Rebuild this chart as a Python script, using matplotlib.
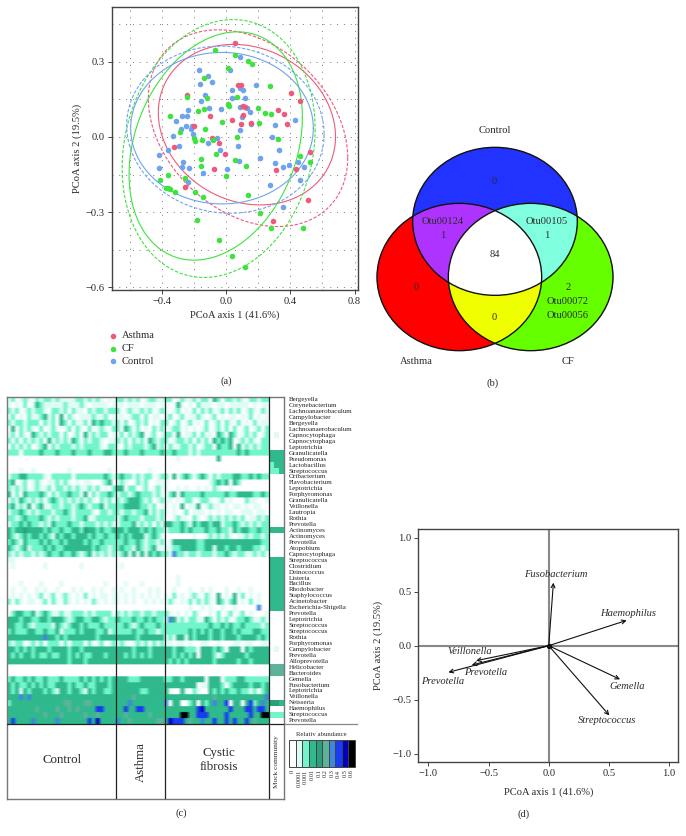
import numpy as np
import matplotlib
matplotlib.use("Agg")
import matplotlib.pyplot as plt
from matplotlib.colors import ListedColormap, BoundaryNorm, to_rgba
from matplotlib.patches import Ellipse, Rectangle

plt.rcParams['font.family'] = ['Liberation Serif', 'DejaVu Serif']
W, H = 686, 836
TXT = '#2a2a2a'

# ---------- panel (a) data ----------
asthma_x = [0.058,-0.24,0.075,0.095,0.406,0.46,0.325,0.36,0.38,0.104,0.118,0.108,-0.10,0.04,0.093,0.155,-0.197,-0.089,-0.044,-0.323,-0.004,-0.077,0.313,0.435,0.522,0.508,-0.253,0.294]
asthma_y = [0.375,0.169,0.207,0.207,0.177,0.145,0.108,0.092,0.052,0.125,0.121,0.088,0.082,0.068,0.052,0.054,0.044,-0.004,-0.024,-0.04,-0.068,-0.129,-0.13,-0.127,-0.06,-0.251,-0.2,-0.335]
cf_x = [-0.068,0.056,0.135,0.164,0.012,-0.137,0.272,-0.242,-0.116,0.066,0.01,0.019,0.197,0.242,0.278,-0.137,-0.176,-0.35,-0.286,-0.128,-0.025,0.203,0.068,0.321,-0.195,-0.2,-0.147,-0.079,-0.06,-0.158,-0.153,0.058,0.122,0.46,0.522,-0.36,0,-0.412,-0.255,-0.375,-0.363,-0.348,-0.317,-0.195,-0.141,0.135,0.211,-0.182,0.28,0.477,-0.044,0.035,0.12]
cf_y = [0.347,0.327,0.304,0.292,0.275,0.235,0.203,0.159,0.157,0.158,0.13,0.124,0.116,0.094,0.092,0.11,0.102,0.082,0.02,0.033,0.06,0.056,0,-0.007,-0.015,-0.004,-0.011,-0.012,-0.068,-0.088,-0.116,-0.092,-0.117,-0.074,-0.098,-0.15,-0.154,-0.171,-0.165,-0.205,-0.202,-0.206,-0.22,-0.22,-0.239,-0.231,-0.303,-0.331,-0.361,-0.363,-0.409,-0.473,-0.519]
control_x = [0.089,0.025,-0.166,-0.114,-0.16,-0.089,0.187,0.037,0.087,0.108,0.04,0.12,-0.131,-0.158,-0.234,-0.104,-0.029,0.087,0.13,0.151,0.097,0.429,-0.242,-0.276,-0.311,-0.249,-0.213,-0.22,-0.28,-0.205,-0.327,-0.29,-0.359,-0.415,-0.054,-0.11,-0.035,0.073,0.087,0.155,0.307,0.286,0.327,0.211,0.079,0.307,0.354,0.394,0.446,0.485,0.458,0.276,0.352,-0.419,-0.265,-0.276,-0.232,-0.143,0.008,-0.236]
control_y = [0.317,0.268,0.267,0.244,0.211,0.22,0.207,0.187,0.194,0.186,0.157,0.157,0.166,0.143,0.109,0.114,0.113,0.12,0.114,0.101,0.078,0.068,0.084,0.082,0.062,0.044,0.044,0.033,0.03,0.011,0.004,-0.036,-0.052,-0.07,-0.004,-0.023,-0.05,-0.036,0.028,0.052,0.046,0,-0.052,-0.082,-0.097,-0.104,-0.12,-0.112,-0.098,-0.12,-0.173,-0.19,-0.279,-0.124,-0.1,-0.118,-0.125,-0.145,-0.129,-0.179]
# ellipses: centre x, centre y, half range x, half range y, correlation
asthma_solid = (0.13, 0.049, 0.551, 0.32, -0.15)
asthma_dash = (0.137, 0.035, 0.62, 0.392, -0.3)
cf_solid = (-0.064, -0.036, 0.539, 0.455, 0.25)
cf_dash = (-0.046, -0.046, 0.6, 0.514, 0.15)
control_solid = (-0.025, 0.035, 0.568, 0.302, 0.0)
control_dash = (-0.004, 0.029, 0.614, 0.333, -0.05)
group_names = ['Asthma', 'CF', 'Control']
group_colors = ['#ee5a7c', '#3fe23f', '#6fa3ee']

# ---------- panel (b) data ----------
venn_centers = [(390, 334), (283, 501), (497, 501)]
venn_radii = [(247, 222), (247, 221), (247, 221)]
venn_labels = [('Control',389,61),('0',389,213),('Otu00124',232,335),('1',232,377),('Otu00105',545,335),('1',545,377),
               ('84',389,434),('0',155,534),('2',609,534),('Otu00072',609,575),('Otu00056',609,617),('0',389,621),
               ('Asthma',155,754),('CF',609,754)]

# ---------- panel (c) data ----------
taxa = ['Bergeyella','Corynebacterium','Lachnoanaerobaculum','Campylobacter','Bergeyella','Lachnoanaerobaculum','Capnocytophaga','Capnocytophaga','Leptotrichia','Granulicatella','Pseudomonas','Lactobacillus','Streptococcus','Oribacterium','Flavobacterium','Leptotrichia','Porphyromonas','Granulicatella','Veillonella','Lautropia','Rothia','Prevotella','Actinomyces','Actinomyces','Prevotella','Atopobium','Capnocytophaga','Streptococcus','Clostridium','Deinococcus','Listeria','Bacillus','Rhodobacter','Staphylococcus','Acinetobacter','Escherichia-Shigella','Prevotella','Leptotrichia','Streptococcus','Streptococcus','Rothia','Porphyromonas','Campylobacter','Prevotella','Alloprevotella','Helicobacter','Bacteroides','Gemella','Fusobacterium','Leptotrichia','Veillonella','Neisseria','Haemophilus','Streptococcus','Prevotella']
heat_rows = [
"120121021221211112212121010 221212012211 22012112022032022121022122",
"101020132111112111210111101 110111011101 10031010211101101111101011",
"212012122102212021102122122 201211212012 10120102021201202120121021",
"120102112312030210111211201 110122020110 12012011210120101101020101",
"212212220212032021120323221 202012120102 20120120102012021020102011",
"030212102012101202102012102 203202010212 01220101012012020201201202",
"120210321212202012031212201 120212301201 22030112021103203201212012",
"212021212031212132021221011 212021203212 20122120212032323012121022",
"021212012302122212122221022 102122212312 02112212012203223031212122",
"222022223222322232223222332 223222322223 22322212122222222232322222",
"000000000000000000000000000 000000000000 00010000000003000000000000",
"000000000000000000000000000 000000000000 00000000000000000000000000",
"000100100000000100000000010 000000001000 00000000000000000000000000",
"122332222102222202222222321 232212122012 20302320232021222332232322",
"230120121011212101011001230 121002120011 10000000000123230320000000",
"212120121120221212112120102 330220120121 10010100101021001000000000",
"302032223202122322130212232 122123222121 02303222232222232233332232",
"121321212023212121212102120 212333212012 11010220122101201000211001",
"231213023112212212321223122 223333221201 10103011301211010110101100",
"122321212221223212222102212 212212231212 10100201110101011001110110",
"221232223212122212231122222 123222122212 00121102101212121212011212",
"122323221213222322122212121 122231212021 33223213233233122321212122",
"323343333232232233243323223 332333232322 12223232223223221323322322",
"321232332321323323332322322 323233312321 00000001001212121011212212",
"232132223232232333323223222 223223212212 01333333223333333333333322",
"321231222323223333333232212 232213212311 11223333223313323323332212",
"212122121232232232123121212 123131313232 21622122122212232122112121",
"110000000000000000000000000 000000000000 00000000000000000000000000",
"010000000100000000100000000 010000000000 00000000000000000000000000",
"000000000000000000000000000 000000000000 00000000000000000000000000",
"000000000000000000000000000 000000000000 00010000000000000000000000",
"000100001000010000000000100 001000100000 00010000000000000000000000",
"010010010100100010100101001 010010001010 00100010010100010010010000",
"010101012012012101020101101 101010101010 10201012102103010302010100",
"202101101202102101010210101 101010010101 02101020212103202301020100",
"000000000000000000000000000 000000000000 00000010010100100100000600",
"023322312321121122212122220 212122122122 21010102100102012012010001",
"333233223323332123322332122 322232232322 16312022113202120122321121",
"332232122221321233232223222 223212322232 22222222222322323223222212",
"232223322322312223233322312 222232232212 22222232323233233232223322",
"333333333633232333333323333 333332333333 12133132333233233323333232",
"212201212022202022202012012 121012120212 11011010011001000110110011",
"332323233323333233233333333 333323332333 33233222033323203330323333",
"323233232232233232322333233 332323232333 33232323033320233333233333",
"333333333333333233323333333 333333333333 32323233333323333323323333",
"000000000000000000000000000 000000000000 00000000000000000000000000",
"000000000000000000000000000 000000000000 00000000000000000000000000",
"232232322322232222323232323 333222333333 22332333330333022233222222",
"323223232322333232232233323 333333333333 33333333011333202333323323",
"323132333232133233213233223 333333223333 31003102100323232232212023",
"333636333333333333333333333 333353333333 33333333333353333333333336",
"233333333333335533355333333 333633333333 60330023032363370330372363",
"333333353333533535333377333 337337733333 33333333783333337333773773",
"333333333533353333353353333 335333335333 33339933777333373333373399",
"373333633333633333337383333 633533333355 38777353363373373733735333",
]
mock_rows = ["000","000","000","000","000","000","010","000","000","333","333","233","223","000","000","000","000","000","000","000","000","000","333","000","000","000","000","333","333","333","333","333","333","333","333","333","000","000","000","000","000","000","010","000","000","555","555","000","000","000","000","443","000","222","000"]
level_labels = ['0','0.0001','0.001','0.01','0.1','0.2','0.3','0.4','0.5','0.6']
level_colors = ['#ffffff','#e0fbf6','#72f5cb','#2fb98d','#2b9f7c','#5db39a','#3f86e0','#1a3cf0','#0000c0','#000000']
group_titles = ['Control', 'Asthma', 'Cystic\nfibrosis', 'Mock community']

# ---------- panel (d) data ----------
arrow_x = [0.039, 0.648, 0.593, 0.504, -0.604, -0.64, -0.834]
arrow_y = [0.584, 0.235, -0.312, -0.646, -0.139, -0.179, -0.247]
genus_names = ['Fusobacterium','Haemophilus','Gemella','Streptococcus','Veillonella','Prevotella','Prevotella']
genus_x = [0.055, 0.662, 0.648, 0.482, -0.654, -0.521, -0.884]
genus_y = [0.66, 0.297, -0.377, -0.692, -0.056, -0.247, -0.328]

fig = plt.figure(figsize=(W/100, H/100), dpi=100)

def axpx(l, t, r, b):
    return fig.add_axes([l/W, 1-b/H, (r-l)/W, (b-t)/H])

def ftext(x, y, s, **kw):
    kw.setdefault('ha', 'center'); kw.setdefault('va', 'center')
    kw.setdefault('fontsize', 7.6); kw.setdefault('color', TXT)
    return fig.text(x/W, 1-y/H, s, **kw)

def style(ax):
    for s in ax.spines.values():
        s.set_color('#444444'); s.set_linewidth(1.0)
    ax.tick_params(labelsize=7.6, length=3, width=0.7, color='#444444', labelcolor=TXT, pad=2)

# ---------- (a) ----------
ax = axpx(111.7, 7, 357.7, 290)
style(ax)
ax.set_xlim(-0.711, 0.819); ax.set_ylim(-0.61, 0.518)
ax.set_xticks([-0.4, 0, 0.4, 0.8]); ax.set_xticklabels(['\u22120.4','0.0','0.4','0.8'])
ax.set_yticks([-0.6, -0.3, 0, 0.3]); ax.set_yticklabels(['\u22120.6','\u22120.3','0.0','0.3'])
for v in np.arange(-0.6, 0.81, 0.2):
    ax.axvline(v, color='#777777', lw=0.7, ls=(0, (1, 6)), zorder=0)
for v in np.arange(-0.6, 0.46, 0.15):
    ax.axhline(v, color='#777777', lw=0.7, ls=(0, (1, 6)), zorder=0)
t = np.linspace(0, 2*np.pi, 300)
def ell(p, c, ls):
    cx, cy, sx, sy, r = p
    ax.plot(cx + sx*np.cos(t), cy + sy*np.cos(t + np.arccos(r)), color=c, lw=0.8, ls=ls, zorder=2)
dash = (0, (3, 1.5))
ell(asthma_solid, group_colors[0], '-'); ell(asthma_dash, group_colors[0], dash)
ell(cf_solid, group_colors[1], '-'); ell(cf_dash, group_colors[1], dash)
ell(control_solid, group_colors[2], '-'); ell(control_dash, group_colors[2], dash)
for xs, ys, c in zip([control_x, asthma_x, cf_x], [control_y, asthma_y, cf_y], [group_colors[2], group_colors[0], group_colors[1]]):
    ax.scatter(xs, ys, s=16, color=c, linewidths=0, zorder=3)
ftext(235, 315, 'PCoA axis 1 (41.6%)')
ftext(77.3, 148.5, 'PCoA axis 2 (19.5%)', rotation=90)
lg = axpx(0, 0, W, H); lg.set_xlim(0, W); lg.set_ylim(H, 0); lg.axis('off'); lg.patch.set_alpha(0)
for name, c, y in zip(group_names, group_colors, [336, 348.7, 361]):
    lg.scatter([112.7], [y], s=16, color=c, linewidths=0)
    ftext(121.7, y, name, ha='left')
ftext(226, 381, '(a)')

# ---------- (b) ----------
bx = axpx(365, 110, 675, 390)
bx.set_xlim(0, 930); bx.set_ylim(840, 0); bx.axis('off'); bx.patch.set_alpha(0)
gx, gy = np.meshgrid(np.arange(0, 930, 1.0) + .5, np.arange(0, 840, 1.0) + .5)
masks = [((gx-c[0])/r[0])**2 + ((gy-c[1])/r[1])**2 <= 1 for c, r in zip(venn_centers, venn_radii)]
region_colors = {(1,0,0):'#2233ff',(0,1,0):'#ff0000',(0,0,1):'#66ff00',(1,1,0):'#b033ff',(1,0,1):'#80ffe0',(0,1,1):'#f0ff00',(1,1,1):'#ffffff'}
img = np.zeros(gx.shape + (4,))
for key, col in region_colors.items():
    m = np.ones(gx.shape, bool)
    for k, mk in zip(key, masks):
        m &= mk if k else ~mk
    img[m] = to_rgba(col)
bx.imshow(img, extent=(0, 930, 840, 0), aspect='auto', interpolation='antialiased', zorder=1)
for c, r in zip(venn_centers, venn_radii):
    bx.add_patch(Ellipse(c, 2*r[0], 2*r[1], fill=False, ec='#111111', lw=1.0, zorder=2))
for s, x, y in venn_labels:
    bx.text(x, y, s, ha='center', va='center', fontsize=7.6, color=TXT, zorder=3)
ftext(493, 383, '(b)')

# ---------- (c) ----------
cx = axpx(7.3, 396.7, 284, 799.3)
nrow = len(taxa)
segs = [r.split() for r in heat_rows]
n1, n2, n3 = 27, 12, 26
mat = np.array([[int(ch) for ch in (a.ljust(n1,'0')[:n1] + b.ljust(n2,'0')[:n2] + c.ljust(n3,'0')[:n3])] for a, b, c in segs])
mock = np.array([[int(ch) for ch in r] for r in mock_rows])
cmap = ListedColormap(level_colors)
norm = BoundaryNorm(np.arange(-0.5, 10), 10)
mockw = 14.7 / (262/65.0)
total = 65 + mockw
# rows repeated so the soft edge acts along the samples and the rows stay distinct
cx.imshow(np.repeat(mat, 8, axis=0), extent=(0, 65, nrow, 0), cmap=cmap, norm=norm, aspect='auto',
          interpolation='bilinear', interpolation_stage='rgba', zorder=1)
cx.imshow(mock, extent=(65, total, nrow, 0), cmap=cmap, norm=norm, aspect='auto', interpolation='nearest', zorder=1)
cx.set_xlim(0, total); cx.set_ylim(nrow + 75.6/5.95, 0)
cx.set_xticks([]); cx.set_yticks([])
for s in cx.spines.values():
    s.set_color('#777777'); s.set_linewidth(1.0)
for v in [n1, n1+n2, n1+n2+n3]:
    cx.axvline(v, color='#222222', lw=0.9, zorder=3)
cx.axhline(nrow, color='#222222', lw=0.9, zorder=3)
for i, name in enumerate(taxa):
    ftext(288.5, 396.7 + (i+0.5)*5.945, name, ha='left', fontsize=5.0, color='#222222')
ftext(61.7, 760, group_titles[0], fontsize=9.3)
ftext(141, 762.5, group_titles[1], fontsize=9.3, rotation=90)
ftext(219, 760, group_titles[2], fontsize=9.3, linespacing=1.15)
ftext(276.7, 761.7, group_titles[3], fontsize=5.3, rotation=90)
lg.plot([284, 357], [723.7, 723.7], color='#888888', lw=0.9)
lx0, lw_, ly0, ly1 = 289.3, 6.57, 740.3, 766.7
for i, (c, lab) in enumerate(zip(level_colors, level_labels)):
    lg.add_patch(Rectangle((lx0 + i*lw_, ly0), lw_, ly1-ly0, fc=c, ec='#444444', lw=0.7))
    ftext(lx0 + (i+0.5)*lw_, 769.5, lab, rotation=90, va='top', fontsize=4.6)
ftext(321.7, 735, 'Relativ abundance', fontsize=4.9)
ftext(181, 813, '(c)')

# ---------- (d) ----------
dx = axpx(418.3, 529.3, 678.3, 762.3)
style(dx)
dx.set_xlim(-1.084, 1.077); dx.set_ylim(-1.081, 1.079)
dx.set_xticks([-1, -0.5, 0, 0.5, 1]); dx.set_xticklabels(['\u22121.0','\u22120.5','0.0','0.5','1.0'])
dx.set_yticks([-1, -0.5, 0, 0.5, 1]); dx.set_yticklabels(['\u22121.0','\u22120.5','0.0','0.5','1.0'])
dx.axhline(0, color='#888888', lw=1.5, zorder=1); dx.axvline(0, color='#888888', lw=1.5, zorder=1)
for x, y in zip(arrow_x, arrow_y):
    dx.annotate('', xy=(x, y), xytext=(0, 0), zorder=3,
                arrowprops=dict(arrowstyle='->', lw=0.8, color='#111111', mutation_scale=7, shrinkA=0, shrinkB=0))
for s, x, y in zip(genus_names, genus_x, genus_y):
    dx.text(x, y, s, ha='center', va='center', style='italic', fontsize=7.6, color=TXT, zorder=4)
dx.scatter([0], [0], s=8, color='#111111', zorder=4)
ftext(548.7, 792, 'PCoA axis 1 (41.6%)')
ftext(378.3, 645.7, 'PCoA axis 2 (19.5%)', rotation=90)
ftext(524, 814, '(d)')

fig.savefig('out.png', dpi=100)
